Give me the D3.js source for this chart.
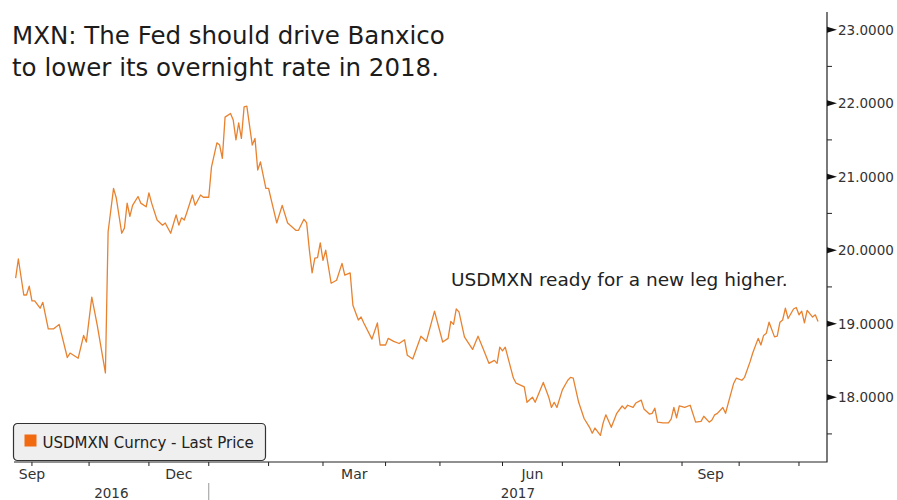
<!DOCTYPE html>
<html>
<head>
<meta charset="utf-8">
<script src="https://cdn.jsdelivr.net/npm/d3@7"></script>
<style>
  body { margin: 0; background: #fff; }
  svg { display: block; font-family: "DejaVu Sans", Verdana, sans-serif; }
</style>
</head>
<body>
<svg id="chart" width="897" height="500"></svg>
<script>
// USDMXN last price (trading days only)
var dates = [
  "2016-09-23","2016-09-26","2016-09-28","2016-09-29","2016-09-30","2016-10-03","2016-10-04","2016-10-06","2016-10-07","2016-10-11",
  "2016-10-13","2016-10-17","2016-10-20","2016-10-21","2016-10-26","2016-10-28","2016-10-31","2016-11-02","2016-11-04","2016-11-09",
  "2016-11-10","2016-11-14","2016-11-15","2016-11-17","2016-11-18","2016-11-21","2016-11-22","2016-11-23","2016-11-25","2016-11-28",
  "2016-11-30","2016-12-01","2016-12-02","2016-12-06","2016-12-08","2016-12-09","2016-12-13","2016-12-15","2016-12-16","2016-12-19",
  "2016-12-20","2016-12-21","2016-12-23","2016-12-26","2016-12-28","2016-12-29","2017-01-02","2017-01-03","2017-01-05","2017-01-06",
  "2017-01-09","2017-01-10","2017-01-12","2017-01-13","2017-01-16","2017-01-17","2017-01-18","2017-01-19","2017-01-20","2017-01-24",
  "2017-01-25","2017-01-26","2017-01-27","2017-01-31","2017-02-01","2017-02-02","2017-02-06","2017-02-08","2017-02-10","2017-02-15",
  "2017-02-16","2017-02-20","2017-02-21","2017-02-22","2017-02-23","2017-02-24","2017-02-27","2017-02-28","2017-03-01","2017-03-02",
  "2017-03-06","2017-03-08","2017-03-10","2017-03-13","2017-03-15","2017-03-16","2017-03-20","2017-03-21","2017-03-22","2017-03-27",
  "2017-03-29","2017-03-30","2017-04-03","2017-04-04","2017-04-06","2017-04-10","2017-04-12","2017-04-13","2017-04-17","2017-04-20",
  "2017-04-24","2017-04-27","2017-05-02","2017-05-04","2017-05-05","2017-05-08","2017-05-09","2017-05-10","2017-05-12","2017-05-17",
  "2017-05-19","2017-05-23","2017-05-25","2017-05-29","2017-05-30","2017-05-31","2017-06-01","2017-06-02","2017-06-07","2017-06-08",
  "2017-06-13","2017-06-14","2017-06-16","2017-06-19","2017-06-22","2017-06-26","2017-06-27","2017-06-28","2017-06-29","2017-07-03",
  "2017-07-05","2017-07-06","2017-07-07","2017-07-11","2017-07-13","2017-07-17","2017-07-18","2017-07-19","2017-07-21","2017-07-24",
  "2017-07-25","2017-07-27","2017-07-31","2017-08-02","2017-08-03","2017-08-04","2017-08-08","2017-08-09","2017-08-11","2017-08-14",
  "2017-08-16","2017-08-17","2017-08-18","2017-08-21","2017-08-23","2017-08-25","2017-08-28","2017-08-29","2017-08-30","2017-08-31",
  "2017-09-04","2017-09-06","2017-09-08","2017-09-12","2017-09-13","2017-09-15","2017-09-18","2017-09-19","2017-09-20","2017-09-22",
  "2017-09-25","2017-09-26","2017-09-28","2017-09-29","2017-10-03","2017-10-04","2017-10-06","2017-10-09","2017-10-11","2017-10-12",
  "2017-10-13","2017-10-16","2017-10-17","2017-10-19","2017-10-20","2017-10-23","2017-10-24","2017-10-25","2017-10-26","2017-10-30",
  "2017-10-31","2017-11-01","2017-11-02","2017-11-03","2017-11-06","2017-11-08","2017-11-09","2017-11-10"
];
var usdmxn = [
  19.62,19.88,19.39,19.39,19.51,19.31,19.31,19.21,19.29,18.93,
  18.93,18.99,18.54,18.60,18.53,18.84,18.75,19.36,18.98,18.33,
  20.25,20.84,20.71,20.23,20.30,20.64,20.46,20.61,20.73,20.64,
  20.59,20.78,20.64,20.41,20.34,20.37,20.23,20.48,20.34,20.44,
  20.41,20.52,20.75,20.61,20.75,20.72,20.72,21.13,21.46,21.43,
  21.25,21.81,21.86,21.77,21.50,21.73,21.52,21.95,21.96,21.43,
  21.52,21.09,21.20,20.84,20.84,20.68,20.37,20.61,20.37,20.27,
  20.27,20.42,20.37,20.00,19.69,19.89,19.90,20.10,19.86,20.00,
  19.55,19.59,19.82,19.66,19.69,19.25,19.05,19.09,19.01,18.79,
  19.01,18.71,18.71,18.80,18.76,18.73,18.78,18.57,18.52,18.83,
  18.76,19.17,18.75,18.80,19.03,18.99,19.20,19.16,18.82,18.65,
  18.83,18.65,18.46,18.50,18.46,18.68,18.63,18.68,18.26,18.19,
  18.14,17.93,18.00,17.93,18.20,18.00,17.86,17.93,17.86,18.10,
  18.23,18.27,18.26,17.93,17.71,17.59,17.51,17.58,17.48,17.65,
  17.76,17.59,17.78,17.88,17.84,17.89,17.86,17.92,17.96,17.84,
  17.77,17.78,17.85,17.66,17.65,17.65,17.70,17.86,17.72,17.88,
  17.86,17.89,17.66,17.67,17.74,17.66,17.69,17.76,17.78,17.86,
  17.78,17.92,18.19,18.26,18.23,18.27,18.48,18.60,18.80,18.71,
  18.84,18.87,19.02,18.82,18.83,19.02,19.05,19.21,19.07,19.20,
  19.22,19.12,19.17,19.01,19.18,19.09,19.12,19.03
];
var yTicks = [18, 19, 20, 21, 22, 23];
var yMinorTicks = [17.5, 18.5, 19.5, 20.5, 21.5, 22.5];
var monthTicks = ["2016-10","2016-11","2016-12","2017-01","2017-02","2017-03","2017-04",
                  "2017-05","2017-06","2017-07","2017-08","2017-09","2017-10","2017-11"];
var monthLabels = ["2016-09","2016-12","2017-03","2017-06","2017-09"];
var years = ["2016", "2017"];
var seriesName = "USDMXN Curncy - Last Price";
var titleLines = ["MXN: The Fed should drive Banxico", "to lower its overnight rate in 2018."];
var note = "USDMXN ready for a new leg higher.";

(function () {
    var svg = d3.select("#chart");
    var parseDay = d3.timeParse("%Y-%m-%d");
    var parseMonth = d3.timeParse("%Y-%m");
    var fmtMonth = d3.timeFormat("%b");

    // Bloomberg-style axis: only weekdays take up room
    var base = parseDay("2016-10-03");
    function isWeekday(t) { var w = t.getDay(); return w > 0 && w < 6; }
    function biz(d) {
        if (d < base) return -d3.timeDay.range(d, base).filter(isWeekday).length;
        return d3.timeDay.range(base, d).filter(isWeekday).length;
    }

    var x0 = 14, x1 = 827, yTop = 12, yBot = 462;
    var x = d3.scaleLinear().domain([-6.6, 292.3]).range([x0, x1]);
    var y = d3.scaleLinear().domain([17.118, 23.24]).range([yBot, yTop]);

    var points = dates.map(function (d, i) { return { i: biz(parseDay(d)), v: usdmxn[i] }; });

    // title + note
    svg.append("g").selectAll("text").data(titleLines).enter().append("text")
        .attr("x", 12).attr("y", function (d, i) { return 44 + i * 32; })
        .attr("font-size", 24.5).attr("fill", "#1c1c1c")
        .text(function (d) { return d; });

    svg.append("text").attr("x", 451).attr("y", 286)
        .attr("font-size", 18.5).attr("fill", "#222").text(note);

    // line
    var line = d3.line()
        .x(function (d) { return x(d.i); })
        .y(function (d) { return y(d.v); });
    svg.append("path").datum(points)
        .attr("d", line)
        .attr("fill", "none")
        .attr("stroke", "#e8822f")
        .attr("stroke-width", 1.3)
        .attr("stroke-linejoin", "round");

    // axes frame
    svg.append("path")
        .attr("d", "M" + x0 + "," + yBot + "H" + x1 + "V" + yTop)
        .attr("fill", "none").attr("stroke", "#222").attr("stroke-width", 1.2);

    // right axis: triangles at majors, short dashes at minors
    var ya = svg.append("g");
    ya.selectAll("path").data(yTicks).enter().append("path")
        .attr("d", function (d) { var p = y(d); return "M" + x1 + "," + (p - 3) + "L" + (x1 + 10) + "," + p + "L" + x1 + "," + (p + 3) + "Z"; })
        .attr("fill", "#111");
    ya.selectAll("line").data(yMinorTicks).enter().append("line")
        .attr("x1", x1).attr("x2", x1 + 5)
        .attr("y1", function (d) { return y(d); }).attr("y2", function (d) { return y(d); })
        .attr("stroke", "#222");
    ya.selectAll("text").data(yTicks).enter().append("text")
        .attr("x", x1 + 11).attr("y", function (d) { return y(d) + 5; })
        .attr("font-size", 13.5).attr("fill", "#333")
        .text(function (d) { return d3.format(".4f")(d); });

    // bottom axis
    var xa = svg.append("g");
    xa.selectAll("line.tk").data(monthTicks).enter().append("line").attr("class", "tk")
        .attr("x1", function (d) { return x(biz(parseMonth(d))); })
        .attr("x2", function (d) { return x(biz(parseMonth(d))); })
        .attr("y1", yBot).attr("y2", yBot + 4)
        .attr("stroke", "#222");
    xa.selectAll("text.m").data(monthLabels).enter().append("text").attr("class", "m")
        .attr("x", function (d) {
            var s = parseMonth(d), e = d3.timeMonth.offset(s, 1);
            var mid = x((biz(s) + biz(e)) / 2);
            return Math.max(mid, x0 + 18);
        })
        .attr("y", 479).attr("text-anchor", "middle")
        .attr("font-size", 14).attr("fill", "#333")
        .text(function (d) { return fmtMonth(parseMonth(d)); });

    var yearEdge = x(biz(parseDay("2017-01-01")));
    var yearSpans = [[x0, yearEdge], [yearEdge, x1]];
    xa.selectAll("text.y").data(years).enter().append("text").attr("class", "y")
        .attr("x", function (d, i) { return (yearSpans[i][0] + yearSpans[i][1]) / 2; })
        .attr("y", 498).attr("text-anchor", "middle")
        .attr("font-size", 13.5).attr("fill", "#333")
        .text(function (d) { return d; });
    xa.append("line")
        .attr("x1", yearEdge).attr("x2", yearEdge)
        .attr("y1", 483).attr("y2", 500)
        .attr("stroke", "#999");

    // legend
    var lg = svg.append("g").attr("transform", "translate(13.5,423.5)");
    lg.append("rect").attr("width", 252).attr("height", 37).attr("rx", 4)
        .attr("fill", "#efefef").attr("stroke", "#333").attr("stroke-width", 1.2);
    lg.append("rect").attr("x", 11).attr("y", 11).attr("width", 12).attr("height", 12)
        .attr("fill", "#f26a10");
    lg.append("text").attr("x", 29).attr("y", 24)
        .attr("font-size", 15).attr("fill", "#222").text(seriesName);
})();
</script>
</body>
</html>
